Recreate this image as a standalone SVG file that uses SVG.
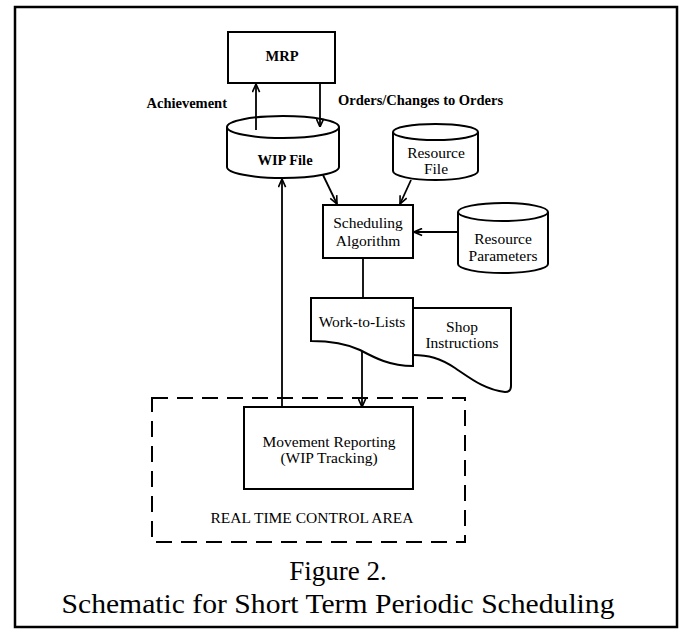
<svg xmlns="http://www.w3.org/2000/svg" width="682" height="630" viewBox="0 0 682 630">
<style>
  .shape { fill: #fff; stroke: #000; stroke-width: 2; }
  .open { fill: none; stroke: #000; stroke-width: 2; }
  .lbl { font-family: "Liberation Serif", "Times New Roman", serif; font-size: 15.5px; fill: #000; text-anchor: middle; }
  .blbl { font-family: "Liberation Serif", "Times New Roman", serif; font-size: 14.5px; font-weight: bold; fill: #000; }
  .cap { font-family: "Liberation Serif", "Times New Roman", serif; font-size: 27px; fill: #000; text-anchor: middle; }
  .conn { fill: none; stroke: #000; stroke-width: 1.8; }
</style>
<defs>
  <marker id="arr" viewBox="0 0 10 10" refX="10" refY="5" markerWidth="9" markerHeight="9" markerUnits="userSpaceOnUse" orient="auto">
    <path d="M1,1 L10,5 L1,9" fill="none" stroke="#000" stroke-width="1.8"/>
  </marker>
</defs>
<rect width="682" height="630" fill="#fff"/>
<rect id="frame" x="15" y="7" width="662" height="620" fill="none" stroke="#000" stroke-width="2.5"/>

<g id="realtime-area">
  <rect x="152" y="398" width="313" height="144" fill="none" stroke="#000" stroke-width="2" stroke-dasharray="16 9"/>
  <text class="lbl" x="312" y="523">REAL TIME CONTROL AREA</text>
</g>

<g id="shop-instructions">
  <path class="open" d="M413,308 H511 V386 Q511,392 505,392 C485,390 470,378 455,368 C440,358 428,355 413,355"/>
  <text class="lbl" x="462" y="332">Shop</text>
  <text class="lbl" x="462" y="348">Instructions</text>
</g>

<g id="mrp">
  <rect class="shape" x="228" y="32" width="107" height="51"/>
  <text class="blbl" x="282" y="61" text-anchor="middle" font-size="16">MRP</text>
</g>

<g id="wip-file">
  <path class="shape" d="M227,127 V167 A56,11 0 0,0 339,167 V127"/>
  <ellipse class="shape" cx="283" cy="127" rx="56" ry="11"/>
  <text class="blbl" x="285" y="165" text-anchor="middle">WIP File</text>
</g>

<g id="resource-file">
  <path class="shape" d="M393,132 V171 A42.5,9 0 0,0 478,171 V132"/>
  <ellipse class="shape" cx="435.5" cy="132" rx="42.5" ry="8"/>
  <text class="lbl" x="436" y="158">Resource</text>
  <text class="lbl" x="436" y="174">File</text>
</g>

<g id="scheduling">
  <rect class="shape" x="323" y="205" width="90" height="53"/>
  <text class="lbl" x="368" y="228">Scheduling</text>
  <text class="lbl" x="368" y="246">Algorithm</text>
</g>

<g id="resource-parameters">
  <path class="shape" d="M458,212 V264 A45,9 0 0,0 548,264 V212"/>
  <ellipse class="shape" cx="503" cy="212" rx="45" ry="9"/>
  <text class="lbl" x="503" y="244">Resource</text>
  <text class="lbl" x="503" y="261">Parameters</text>
</g>

<g id="work-to-lists">
  <path class="shape" d="M311,298 H413 V366 C390,366 375,358 360,350 C345,343 330,341 311,341 Z"/>
  <text class="lbl" x="362" y="327">Work-to-Lists</text>
</g>

<g id="movement-reporting">
  <rect class="shape" x="244" y="407" width="169" height="82"/>
  <text class="lbl" x="329" y="447">Movement Reporting</text>
  <text class="lbl" x="329" y="463">(WIP Tracking)</text>
</g>

<g id="connectors">
  <line class="conn" x1="256" y1="130" x2="256" y2="84" marker-end="url(#arr)"/>
  <line class="conn" x1="320" y1="83" x2="320" y2="127" marker-end="url(#arr)"/>
  <line class="conn" x1="323" y1="175" x2="337" y2="204" marker-end="url(#arr)"/>
  <line class="conn" x1="411" y1="180" x2="400" y2="204" marker-end="url(#arr)"/>
  <line class="conn" x1="458" y1="232" x2="414" y2="232" marker-end="url(#arr)"/>
  <line class="conn" x1="363" y1="258" x2="363" y2="298"/>
  <line class="conn" x1="362" y1="351" x2="362" y2="407" marker-end="url(#arr)"/>
  <line class="conn" x1="282" y1="407" x2="282" y2="179" marker-end="url(#arr)"/>
</g>

<g id="labels">
  <text class="blbl" x="227" y="108" text-anchor="end">Achievement</text>
  <text class="blbl" x="338" y="105">Orders/Changes to Orders</text>
</g>

<g id="caption">
  <text class="cap" x="338" y="580">Figure 2.</text>
  <text class="cap" x="338" y="613" textLength="553" lengthAdjust="spacingAndGlyphs">Schematic for Short Term Periodic Scheduling</text>
</g>
</svg>
